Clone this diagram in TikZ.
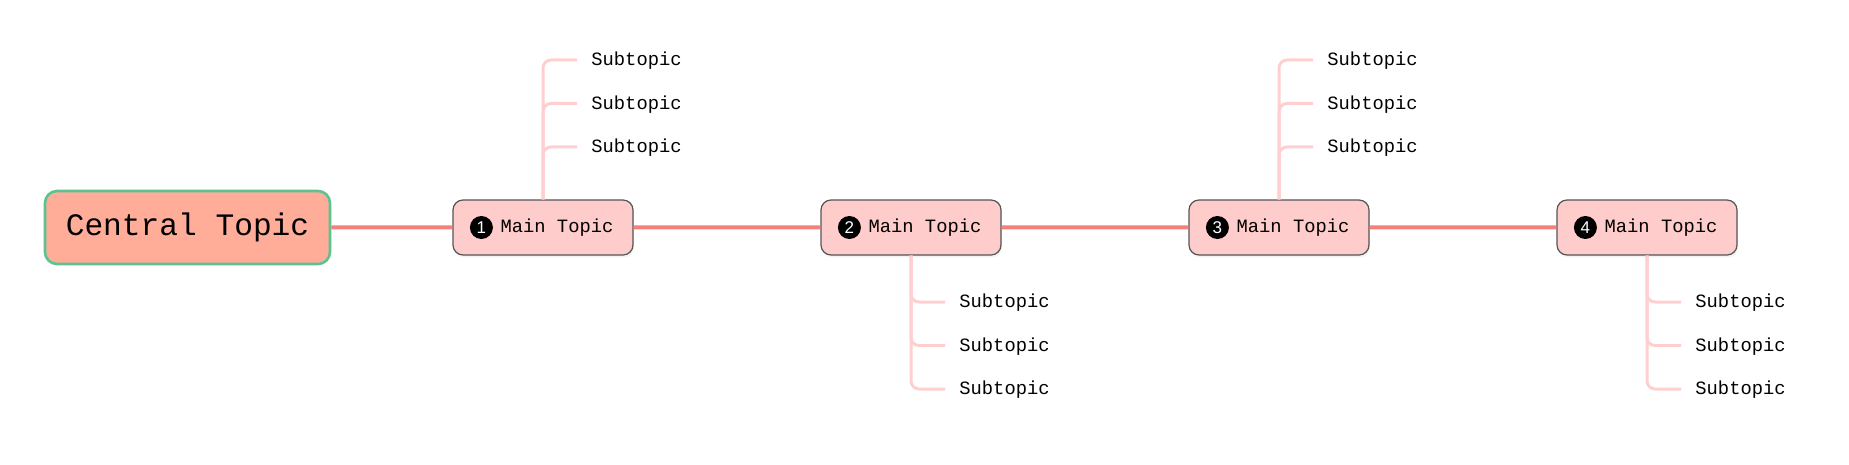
\documentclass[tikz,border=0pt]{standalone}
\usepackage{fontspec}
\usetikzlibrary{shadows}
\newfontfamily\monofnt{Liberation Mono}
\newfontfamily\numfnt{Liberation Sans}
\definecolor{centralfill}{HTML}{FFAC99}
\definecolor{centralborder}{HTML}{5DC28E}
\definecolor{mainfill}{HTML}{FFCCCC}
\definecolor{mainborder}{HTML}{555555}
\definecolor{mainline}{HTML}{F47F7B}
\definecolor{subline}{HTML}{FFCFCF}

\begin{document}
\begin{tikzpicture}[x=0.5pt, y=-0.5pt, grow=right,
     every node/.style={font=\monofnt\fontsize{9.4}{11}\selectfont},
     central/.style={draw=centralborder, fill=centralfill, line width=1.3pt, rounded corners=6pt,
       minimum width=142.5pt, minimum height=36.5pt, font=\monofnt\fontsize{15.6}{18}\selectfont},
     maintopic/.style={draw=mainborder, fill=mainfill, line width=0.6pt, rounded corners=5pt,
       minimum width=90pt, minimum height=27.5pt, execute at begin node={\hspace*{14pt}},
       drop shadow={shadow xshift=0.6pt, shadow yshift=-1.2pt, opacity=0.1}},
     numdot/.style={circle, fill=black, text=white, inner sep=0pt, minimum size=11.5pt,
       font=\numfnt\fontsize{8.5}{9}\selectfont},
     subtopic/.style={anchor=west, inner sep=0pt, text height=5.6pt, text depth=0pt},
     subline/.style={draw=subline, line width=1.5pt, rounded corners=4pt},
     edge from parent/.style={draw=mainline, line width=2pt},
     level/.style={level distance=184pt},
     level 1/.append style={level distance=177.75pt}]

   \useasboundingbox (0,0) rectangle (1849,465);

   \node[central] (central) at (187.5,227.5) {Central Topic}
     child{ node[maintopic] (m1) {Main Topic}
       child{ node[maintopic] (m2) {Main Topic}
         child{ node[maintopic] (m3) {Main Topic}
           child{ node[maintopic] (m4) {Main Topic} } } } };

   % numbers in the main topics
   \foreach \m in {1,...,4}
     \node[numdot] (d\m) at ([xshift=14.5pt]m\m.west) {\m};

   % subtopics, above for odd and below for even main topics
   \foreach \m/\side/\ya/\yb/\yc in {1/north/60/103.5/147, 2/south/302/345.5/389,
                                      3/north/60/103.5/147, 4/south/302/345.5/389}{
     \pgfmathsetmacro\sx{591+368*(\m-1)}
     \foreach \y [count=\k] in {\ya,\yb,\yc}{
       \node[subtopic] (s\m\k) at (\sx,\y) {Subtopic};
       \draw[subline] (m\m.\side) |- ([xshift=-7pt]s\m\k.west);
     }
   }
  \end{tikzpicture}
\end{document}
